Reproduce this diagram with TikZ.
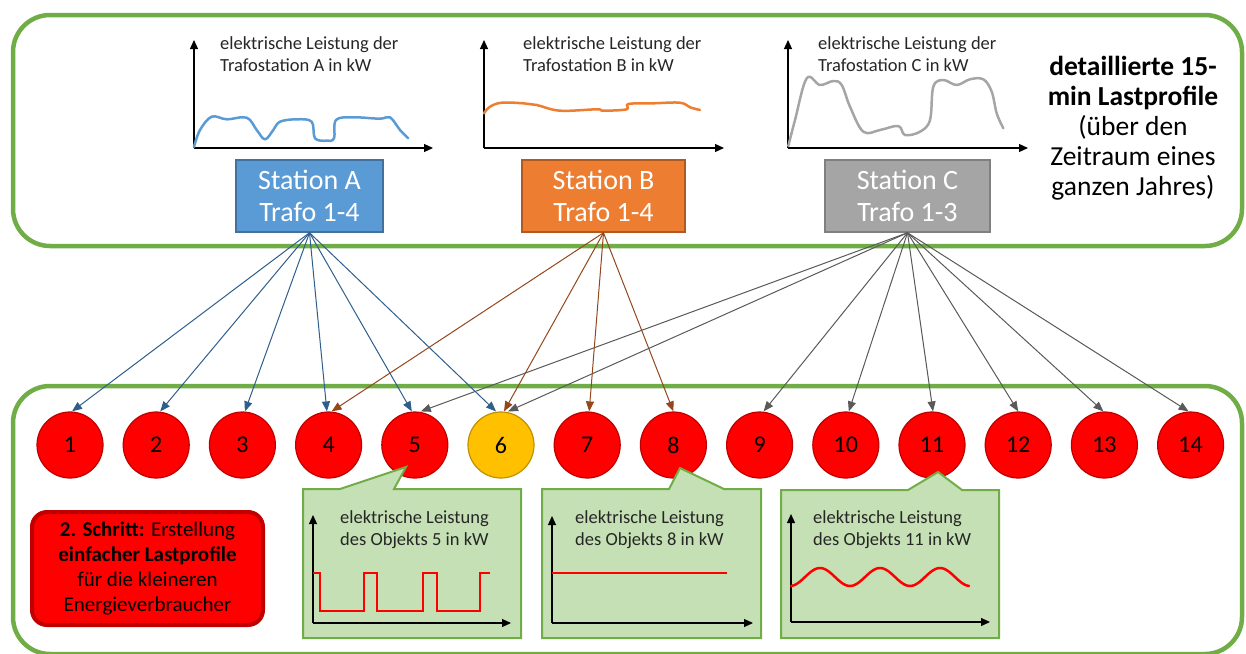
\documentclass[tikz,border=0pt]{standalone}
\usepackage{fontspec}
\setmainfont{Carlito}
\usetikzlibrary{arrows.meta}
\definecolor{panelgreen}{HTML}{70AD47}
\definecolor{calloutfill}{HTML}{C5E0B4}
\definecolor{stAfill}{HTML}{5B9BD5}
\definecolor{stAdraw}{HTML}{41719C}
\definecolor{stBfill}{HTML}{ED7D31}
\definecolor{stBdraw}{HTML}{AE5A21}
\definecolor{stCfill}{HTML}{A5A5A5}
\definecolor{stCdraw}{HTML}{7F7F7F}
\definecolor{arrA}{HTML}{2E5E8C}
\definecolor{arrB}{HTML}{94471C}
\definecolor{arrC}{HTML}{595959}
\definecolor{objred}{HTML}{FF0000}
\definecolor{objredline}{HTML}{C00000}
\definecolor{objgold}{HTML}{FFC000}
\definecolor{objgoldline}{HTML}{BF9000}
\definecolor{txt}{HTML}{262626}
\begin{document}
\begin{tikzpicture}[x=1pt,y=-1pt,
  panel/.style={draw=panelgreen, line width=4.5pt, rounded corners=37pt},
  station/.style={line width=1.5pt, text=white, align=center, inner sep=0pt,
    minimum height=72pt, font=\fontsize{28}{32}\selectfont},
  axis/.style={line width=1.2pt, black, -{Triangle[length=9pt,width=8pt]}},
  curve/.style={line width=2.5pt, line join=round, line cap=round},
  graphlabel/.style={anchor=west, align=left, text=txt, inner sep=0pt,
    font=\fontsize{18.5}{21.5}\selectfont},
  obj/.style={circle, minimum size=66pt, inner sep=0pt, line width=1.2pt,
    draw=objredline, fill=objred, font=\fontsize{24}{26}\selectfont},
  conn/.style={line width=1pt, -{Triangle[length=10pt,width=8pt]}},
  callout/.style={draw=panelgreen, fill=calloutfill, line width=2pt, line join=miter},
  wave/.style={line width=2.5pt, objred, line join=miter}
]
\useasboundingbox (0,0) rectangle (1246,653);

% the two framing panels
\draw[panel] (13,15) rectangle (1242,246);
\draw[panel] (13,386) rectangle (1242,654);

% load curves of the three transformer stations
\draw[axis] (194,148) -- (194,40);
\draw[axis] (194,148) -- (433,148);
\node[graphlabel] (labA) at (220,54) {elektrische Leistung der\\Trafostation A in kW};
\draw[curve, stAfill] plot[smooth, tension=0.6] coordinates {
  (194,147) (200,130) (211.7,116.7) (226.7,119.3) (246.7,117.7) (256.7,130)
  (265,139.3) (273.3,130) (280,121.7) (296.7,119.3) (311.7,121.7) (315,138.3)
  (326.7,140.7) (334,138.3) (336,120) (353.3,117.3) (380,118.7) (390,117.3)
  (400,130) (408.3,138.3)};

\draw[axis] (484,148) -- (484,40);
\draw[axis] (484,148) -- (724,148);
\node[graphlabel] (labB) at (523,54) {elektrische Leistung der\\Trafostation B in kW};
\draw[curve, stBfill] plot[smooth, tension=0.6] coordinates {
  (484,113.3) (490,106.7) (501.7,102.7) (523.3,103.3) (536.7,105) (560,110.7)
  (596.7,109.3) (603.3,110.7) (626.7,109.3) (628.3,104) (653.3,103.3)
  (680,102.7) (690,107.3) (700,110)};

\draw[axis] (788,148) -- (788,40);
\draw[axis] (788,148) -- (1028,148);
\node[graphlabel] (labC) at (818,54) {elektrische Leistung der\\Trafostation C in kW};
\draw[curve, stCfill] plot[smooth, tension=0.6] coordinates {
  (788.3,146) (795,120) (806.7,78.3) (820,85) (833.3,81) (841.7,85) (850,106.7)
  (863.3,131.7) (880,130) (898.3,126) (905,135) (920,131.7) (930,120)
  (933.3,86.7) (943.3,80) (956.7,85) (970,79.3) (983.3,79.3) (991.7,91.7)
  (996.7,113.3) (1003.3,128.3)};

\node[align=center, text=black, inner sep=0pt, font=\fontsize{27.5}{30}\selectfont] (summary) at (1133,128)
  {\textbf{detaillierte 15-}\\\textbf{min Lastprofile}\\(über den\\Zeitraum eines\\ganzen Jahres)};

% transformer stations
\node[station, draw=stAdraw, fill=stAfill, minimum width=147pt] (stA) at (309.5,196) {Station A\\Trafo 1-4};
\node[station, draw=stBdraw, fill=stBfill, minimum width=163pt] (stB) at (603.5,196) {Station B\\Trafo 1-4};
\node[station, draw=stCdraw, fill=stCfill, minimum width=165pt] (stC) at (907.5,196) {Station C\\Trafo 1-3};

% consumer objects
\foreach \i in {1,...,5,7,8,9,10,11,12,13,14}
  \node[obj] (c\i) at ({70+86.2*(\i-1)},445) {\i};
\node[obj, draw=objgoldline, fill=objgold] (c6) at ({70+86.2*5},445) {6};

% station-to-object assignments
\foreach \t/\dx in {1/2,2/4,3/2.5,4/-1.7,5/-3,6/-5}
  \draw[conn, arrA] (stA.south) -- ([xshift=\dx pt]c\t.north);
\foreach \t/\dx in {4/3,6/3,7/2,8/0}
  \draw[conn, arrB] (stB.south) -- ([xshift=\dx pt]c\t.north);
\foreach \t/\dx in {5/6,6/7,9/4,10/3,11/1,12/0,13/-1,14/-2}
  \draw[conn, arrC] (stC.south) -- ([xshift=\dx pt]c\t.north);

% second step
\node[draw=objredline, fill=objred, line width=4pt, rounded corners=15pt,
  minimum width=231pt, minimum height=113pt, align=center, text=black, inner sep=0pt,
  font=\fontsize{21}{25}\selectfont] (step2) at (147.5,568.5)
  {\textbf{2. Schritt:} Erstellung\\\textbf{einfacher Lastprofile}\\für die kleineren\\Energieverbraucher};

% callout for object 5
\draw[callout] (303,489) -- (340,489) -- (406,467) -- (394,489) -- (521,489)
  -- (521,638) -- (303,638) -- cycle;
\draw[axis] (313,623) -- (313,515);
\draw[axis] (313,623) -- (511,623);
\node[graphlabel] (lab5) at (340,529.5) {elektrische Leistung\\des Objekts 5 in kW};
\draw[wave] (313,573) -- (320,573) -- (320,611) -- (364,611) -- (364,573)
  -- (377,573) -- (377,611) -- (423,611) -- (423,573) -- (437,573)
  -- (437,611) -- (480,611) -- (480,573) -- (490,573);

% callout for object 8
\draw[callout] (542,489) -- (669,489) -- (680,468) -- (724,489) -- (761,489)
  -- (761,638) -- (542,638) -- cycle;
\draw[axis] (552,623) -- (552,516);
\draw[axis] (552,623) -- (753,623);
\node[graphlabel] (lab8) at (575,529.5) {elektrische Leistung\\des Objekts 8 in kW};
\draw[wave] (552,573) -- (727,573);

% callout for object 11
\draw[callout] (781,490) -- (908,490) -- (938,472) -- (962,490) -- (999,490)
  -- (999,638) -- (781,638) -- cycle;
\draw[axis] (791,622) -- (791,514);
\draw[axis] (791,622) -- (990,622);
\node[graphlabel] (lab11) at (813,529.5) {elektrische Leistung\\des Objekts 11 in kW};
\draw[wave, line cap=round] plot[domain=791:969, samples=80, smooth] (\x,{577-9*cos((\x-820)*6)});
\end{tikzpicture}
\end{document}
